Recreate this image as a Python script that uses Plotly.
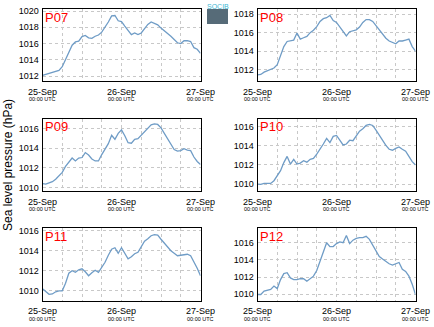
import pandas as pd
import plotly.graph_objects as go

times = pd.date_range("2014-09-25 00:00", periods=49, freq="h")

stations = ["P07", "P08", "P09", "P10", "P11", "P12"]

p07 = [1012.08, 1012.2, 1012.25, 1012.4, 1012.5, 1012.7, 1013.15, 1014.05, 1014.95, 1015.8,
       1016.2, 1016.3, 1016.85, 1017.0, 1016.7, 1016.65, 1016.9, 1017.05, 1017.4, 1018.0,
       1018.65, 1019.4, 1019.45, 1018.8, 1018.7, 1018.15, 1017.55, 1017.1, 1017.3, 1017.1,
       1017.3, 1017.85, 1018.35, 1018.65, 1018.5, 1018.3, 1017.9, 1017.6, 1017.25, 1016.9,
       1016.5, 1016.1, 1016.0, 1016.35, 1016.35, 1016.25, 1015.5, 1015.3, 1014.8]
p08 = [1011.46, 1011.5, 1011.75, 1011.9, 1012.07, 1012.2, 1012.55, 1013.5, 1014.5, 1015.05,
       1015.1, 1015.2, 1015.95, 1015.3, 1015.45, 1015.6, 1016.0, 1016.25, 1016.65, 1017.2,
       1017.5, 1017.6, 1017.85, 1017.3, 1017.1, 1016.6, 1016.1, 1015.65, 1016.1, 1016.2,
       1016.3, 1016.6, 1017.1, 1017.4, 1017.4, 1017.2, 1016.75, 1016.25, 1015.8, 1015.4,
       1015.1, 1014.95, 1014.8, 1015.1, 1015.1, 1015.2, 1015.3, 1014.5, 1014.0]
p09 = [1010.4, 1010.35, 1010.48, 1010.6, 1010.85, 1011.2, 1011.55, 1012.15, 1012.6, 1013.0,
       1012.7, 1013.0, 1013.05, 1013.55, 1013.3, 1012.9, 1012.7, 1012.7, 1013.35, 1013.95,
       1014.45, 1015.3, 1014.9, 1015.5, 1015.85, 1015.25, 1014.55, 1014.5, 1014.9, 1014.95,
       1015.3, 1015.75, 1016.0, 1016.35, 1016.45, 1016.4, 1016.05, 1015.5, 1014.9, 1014.35,
       1013.85, 1013.7, 1013.75, 1013.95, 1013.8, 1013.75, 1013.1, 1012.65, 1012.35]
p10 = [1010.0, 1009.97, 1010.07, 1010.1, 1010.07, 1010.35, 1010.87, 1011.4, 1012.25, 1012.9,
       1012.1, 1012.6, 1012.1, 1012.2, 1012.45, 1012.3, 1012.6, 1012.7, 1013.15, 1013.65,
       1014.2, 1014.8, 1014.35, 1015.0, 1015.1, 1014.6, 1014.1, 1014.2, 1014.6, 1014.55,
       1015.0, 1015.55, 1015.8, 1016.15, 1016.25, 1016.15, 1015.65, 1015.1, 1014.6, 1014.05,
       1013.65, 1013.55, 1013.75, 1013.9, 1013.65, 1013.45, 1012.9, 1012.35, 1012.0]
p11 = [1010.2, 1009.9, 1009.65, 1009.68, 1009.9, 1010.0, 1010.0, 1010.75, 1011.75, 1012.0,
       1011.85, 1012.1, 1012.2, 1011.9, 1011.5, 1011.8, 1012.05, 1011.85, 1012.3, 1012.85,
       1013.55, 1014.15, 1014.3, 1013.75, 1014.3, 1013.8, 1013.2, 1013.4, 1013.7, 1013.85,
       1014.4, 1014.95, 1015.2, 1015.5, 1015.6, 1015.55, 1015.15, 1014.75, 1014.3, 1014.0,
       1013.75, 1013.5, 1013.55, 1013.6, 1013.65, 1013.5, 1012.9, 1012.25, 1011.5]
p12 = [1009.96, 1009.96, 1010.35, 1010.42, 1010.55, 1010.95, 1010.65, 1011.7, 1012.4, 1012.5,
       1011.9, 1011.7, 1011.7, 1011.8, 1011.8, 1011.5, 1011.8, 1012.1, 1012.75, 1013.8,
       1014.95, 1016.0, 1015.55, 1015.55, 1015.9, 1016.1, 1016.0, 1016.85, 1015.9, 1016.3,
       1016.5, 1016.6, 1016.6, 1016.75, 1016.4, 1015.7, 1014.95, 1014.4, 1014.1, 1013.8,
       1013.55, 1013.4, 1013.55, 1013.7, 1012.9, 1012.65, 1012.1, 1011.15, 1009.96]
series = [p07, p08, p09, p10, p11, p12]

y_ranges = [[1011.4, 1020.25], [1010.8, 1018.54], [1009.66, 1017.0],
            [1009.27, 1016.88], [1009.03, 1016.27], [1009.26, 1017.72]]

tick_dates = ["2014-09-25 00:00", "2014-09-26 00:00", "2014-09-27 00:00"]
tick_text = ["25-Sep", "26-Sep", "27-Sep"]
tick_sub = "00:00 UTC"

W, H = 434, 327
cols_px = [(42.5, 200.5), (257.5, 415.5)]
rows_px = [(9, 81), (118.5, 191), (228, 300.5)]

fig = go.Figure()
font_family = "Liberation Sans, Arial, sans-serif"

for i, (name, vals) in enumerate(zip(stations, series)):
    r, c = divmod(i, 2)
    k = "" if i == 0 else str(i + 1)
    x0, x1 = cols_px[c]
    y0, y1 = rows_px[r]
    fig.add_trace(go.Scatter(x=times, y=vals, mode="lines",
                             line=dict(color="#6f9cc6", width=1.3),
                             xaxis="x" + k, yaxis="y" + k, showlegend=False))
    common = dict(showline=True, linecolor="black", linewidth=1, mirror=True,
                  gridcolor="#c8c8c8", griddash="dot", gridwidth=1,
                  ticks="", zeroline=False, automargin=False,
                  tickfont=dict(family=font_family, size=9, color="black"))
    fig.layout["xaxis" + k] = dict(
        domain=[x0 / W, x1 / W], anchor="y" + k, type="date",
        range=[tick_dates[0], tick_dates[2]],
        tickmode="array", tickvals=tick_dates, ticktext=tick_text,
        ticklabelstandoff=2,
        minor=dict(dtick=6 * 3600 * 1000, showgrid=True, gridcolor="#c8c8c8",
                   griddash="dot", ticks=""),
        **common)
    fig.layout["yaxis" + k] = dict(
        domain=[1 - y1 / H, 1 - y0 / H], anchor="x" + k,
        range=y_ranges[i], dtick=2, tick0=1010, ticklabelstandoff=1, **common)
    fig.add_annotation(text=name, xref=("x" + k) + " domain", yref=("y" + k) + " domain",
                       x=0.005, y=1.02, xanchor="left", yanchor="top", showarrow=False,
                       font=dict(family=font_family, size=13, color="red"))
    for td in tick_dates:
        fig.add_annotation(text=tick_sub, xref="x" + k, yref=("y" + k) + " domain",
                           x=td, y=0, yshift=-18, xanchor="center", yanchor="middle",
                           showarrow=False,
                           font=dict(family=font_family, size=5.5, color="black"))

fig.add_annotation(text="Sea level pressure (hPa)", xref="paper", yref="paper",
                   x=8 / W, y=1 - 165 / H, xanchor="center", yanchor="middle",
                   textangle=-90, showarrow=False,
                   font=dict(family=font_family, size=12, color="black"))

# logo
fig.add_shape(type="rect", xref="paper", yref="paper",
              x0=207 / W, x1=228 / W, y0=1 - 24 / H, y1=1 - 9 / H,
              fillcolor="#566b78", line=dict(width=0))
fig.add_annotation(text="SOCIB", xref="paper", yref="paper", x=217.5 / W, y=1 - 6 / H,
                   xanchor="center", yanchor="middle",
                   showarrow=False, font=dict(family=font_family, size=7, color="#3db8d4"))

fig.update_layout(width=W, height=H, margin=dict(l=0, r=0, t=0, b=0),
                  plot_bgcolor="white", paper_bgcolor="white")

fig.write_html("out.html")
